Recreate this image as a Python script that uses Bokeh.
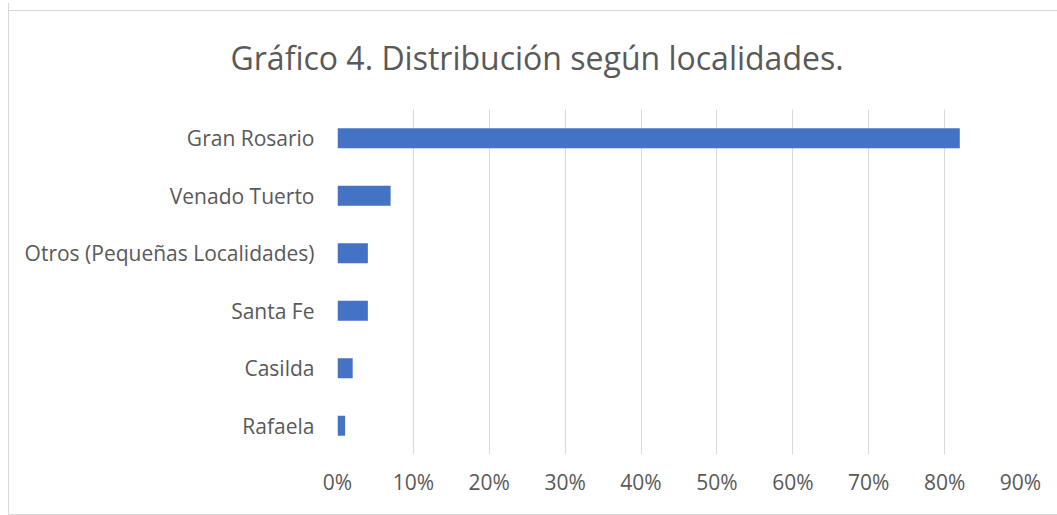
from bokeh.plotting import figure
from bokeh.models import Range1d, FactorRange, FixedTicker, NumeralTickFormatter, ColumnDataSource
from bokeh.embed import file_html
from bokeh.resources import INLINE

categories = ["Gran Rosario", "Venado Tuerto", "Otros (Pequeñas Localidades)", "Santa Fe", "Casilda", "Rafaela"]
values = [0.82, 0.07, 0.04, 0.04, 0.02, 0.01]
tick_values = [0.0, 0.1, 0.2, 0.3, 0.4, 0.5, 0.6, 0.7, 0.8, 0.9]
title_text = "Gráfico 4. Distribución según localidades."

FONT = "Open Sans"
TXT = "#595959"

source = ColumnDataSource(dict(cat=categories, val=values))

p = figure(width=1049, height=512, output_backend="svg", toolbar_location=None,
           y_range=FactorRange(factors=categories[::-1]),
           x_range=Range1d(0, 0.9),
           min_border_left=328, min_border_right=38, min_border_top=106, min_border_bottom=61)
p.styles = {"margin-left": "8px", "margin-top": "3px",
            "border-left": "1px solid #d9d9d9",
            "border-bottom": "1px solid #d9d9d9", "box-sizing": "border-box",
            "background": "linear-gradient(#d9d9d9, #d9d9d9) 0 7px / 100% 1px no-repeat, #ffffff"}
p.border_fill_color = None
p.background_fill_color = None

p.hbar(y="cat", right="val", left=0, height=0.35, source=source,
       fill_color="#4472C4", line_color="#4472C4", line_width=0)

p.outline_line_color = None
p.ygrid.grid_line_color = None
p.xgrid.grid_line_color = "#d9d9d9"
p.xgrid.grid_line_width = 1
p.xgrid.ticker = FixedTicker(ticks=tick_values)

xa = p.xaxis[0]
xa.ticker = FixedTicker(ticks=tick_values)
xa.formatter = NumeralTickFormatter(format="0%")
xa.axis_line_color = None
xa.major_tick_line_color = None
xa.minor_tick_line_color = None
xa.major_tick_out = 0
xa.minor_tick_out = 0
xa.major_label_text_font = FONT
xa.major_label_text_font_size = "21px"
xa.major_label_text_color = TXT
xa.major_label_standoff = 13

ya = p.yaxis[0]
ya.axis_line_color = None
ya.major_tick_line_color = None
ya.minor_tick_line_color = None
ya.major_tick_out = 0
ya.minor_tick_out = 0
ya.major_label_text_font = FONT
ya.major_label_text_font_size = "21px"
ya.major_label_text_color = TXT
ya.major_label_standoff = 23

p.title.text = title_text
p.title.text_font = FONT
p.title.text_font_size = "32px"
p.title.text_font_style = "normal"
p.title.text_color = TXT
p.title.align = "left"
p.title.offset = -107
p.title.standoff = 61

open("out.html", "w").write(file_html(p, INLINE))
